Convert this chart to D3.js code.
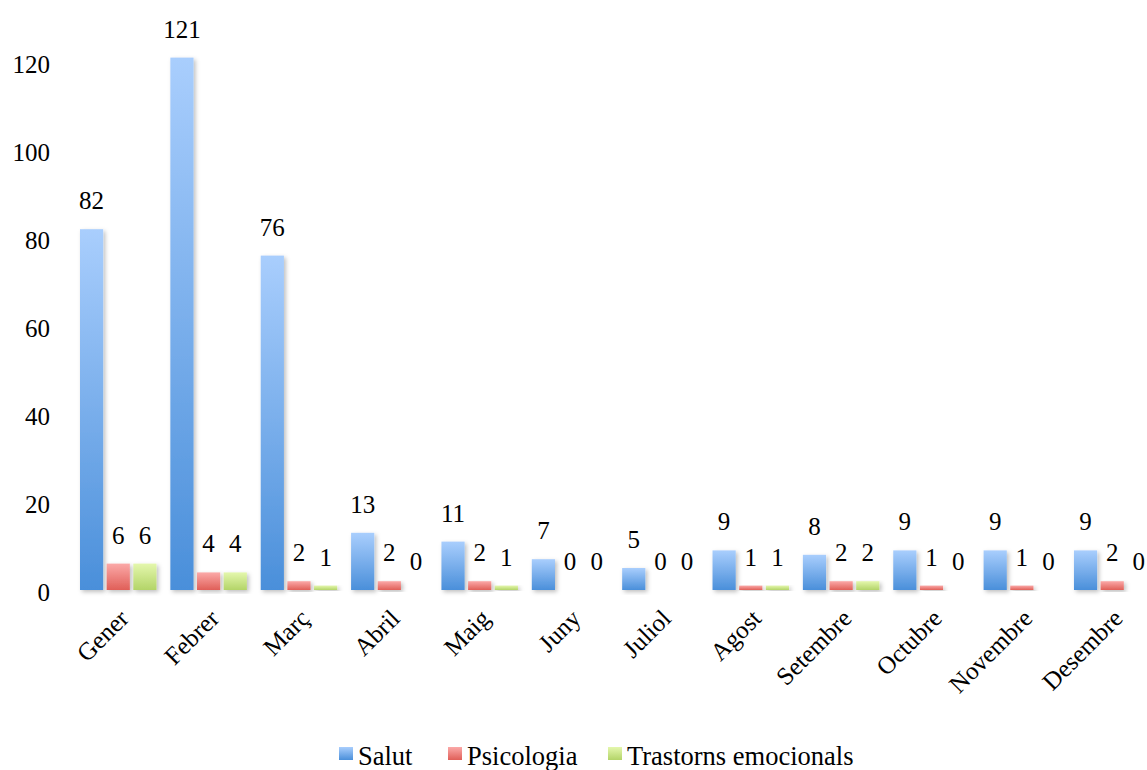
<!DOCTYPE html>
<html>
<head>
<meta charset="utf-8">
<script src="https://cdn.jsdelivr.net/npm/d3@7"></script>
<style>
  svg text { font-family: 'Liberation Serif', serif !important; }
</style>
</head>
<body style="margin:0">
<svg id="chart" width="1147" height="770" style="font-family:'Liberation Serif', serif"></svg>
<script>
const months = ["Gener","Febrer","Març","Abril","Maig","Juny","Juliol","Agost","Setembre","Octubre","Novembre","Desembre"];
const seriesNames = ["Salut","Psicologia","Trastorns emocionals"];
const salut = [82,121,76,13,11,7,5,9,8,9,9,9];
const psicologia = [6,4,2,2,2,0,0,1,2,1,1,2];
const trastorns = [6,4,1,0,1,0,0,1,2,0,0,0];
const yTicks = [0,20,40,60,80,100,120];
const colorsTop = ["#a9cefd","#fba9a8","#e4f7ad"];
const colorsBottom = ["#4a8fda","#e05f58","#b3d468"];

const FONT = "'Liberation Serif', serif";
const seriesValues = [salut, psicologia, trastorns];
const svg = d3.select("#chart");
const W = 1147;
const mLeft = 73, mBottom = 590, mTop = 62;
const step = 90.36;

const x0 = d3.scaleBand().domain(months).range([mLeft, mLeft + step * months.length]).padding(0);
const x1 = d3.scaleBand().domain(seriesNames).range([7, 83.5]).paddingInner(0.13).paddingOuter(0);
const y = d3.scaleLinear().domain([0, 120]).range([mBottom, mTop]);

const defs = svg.append("defs");
seriesNames.forEach((s, i) => {
  const g = defs.append("linearGradient").attr("id", "grad" + i)
    .attr("x1", 0).attr("y1", 0).attr("x2", 0).attr("y2", 1);
  g.append("stop").attr("offset", "0%").attr("stop-color", colorsTop[i]);
  g.append("stop").attr("offset", "100%").attr("stop-color", colorsBottom[i]);
});
const f = defs.append("filter").attr("id", "shadow").attr("x", "-30%").attr("y", "-10%").attr("width", "160%").attr("height", "130%");
f.append("feDropShadow").attr("dx", 2).attr("dy", 2).attr("stdDeviation", 2).attr("flood-color", "#000").attr("flood-opacity", 0.25);
const fl = defs.append("filter").attr("id", "lshadow").attr("x", "-5%").attr("y", "-200%").attr("width", "110%").attr("height", "500%");
fl.append("feDropShadow").attr("dx", 0).attr("dy", 1.5).attr("stdDeviation", 1).attr("flood-color", "#000").attr("flood-opacity", 0.2);

// gridlines
svg.append("g").selectAll("line").data(yTicks).join("line")
  .attr("x1", mLeft).attr("x2", W)
  .attr("y1", d => y(d)).attr("y2", d => y(d))
  .attr("stroke", "#9c9c9c").attr("stroke-width", 2)
  .attr("filter", "url(#lshadow)");

// y tick labels
svg.selectAll("text.ytick").data(yTicks).join("text")
  .attr("class", "ytick")
  .attr("x", 50).attr("y", d => y(d) + 10.5)
  .attr("text-anchor", "end").attr("font-size", 25).style("font-family", FONT).attr("fill", "#000")
  .text(d => d);

// bars
const groups = svg.append("g").selectAll("g").data(months).join("g")
  .attr("transform", d => `translate(${x0(d)},0)`);

groups.each(function(m, mi) {
  const g = d3.select(this);
  seriesNames.forEach((s, si) => {
    const v = seriesValues[si][mi];
    if (v > 0) {
      g.append("rect")
        .attr("x", x1(s)).attr("width", x1.bandwidth())
        .attr("y", y(v)).attr("height", y(0) - y(v))
        .attr("fill", `url(#grad${si})`)
        .attr("filter", "url(#shadow)");
    }
  });
});

// value labels
const labelData = [];
months.forEach((m, mi) => seriesNames.forEach((s, si) => labelData.push({m, s, v: seriesValues[si][mi]})));
svg.selectAll("text.val").data(labelData).join("text")
  .attr("class", "val")
  .attr("x", d => x0(d.m) + x1(d.s) + x1.bandwidth() / 2)
  .attr("y", d => y(d.v) - 20)
  .attr("text-anchor", "middle").attr("font-size", 25).style("font-family", FONT).attr("fill", "#000")
  .text(d => d.v);

// x labels
svg.selectAll("text.xlab").data(months).join("text")
  .attr("class", "xlab")
  .attr("transform", d => `translate(${x0(d) + x0.bandwidth() / 2 + 12},${620}) rotate(-45)`)
  .attr("text-anchor", "end").attr("font-size", 25).style("font-family", FONT).attr("fill", "#000")
  .text(d => d);

// legend
const legendX = [339, 448, 608];
seriesNames.forEach((s, i) => {
  svg.append("rect").attr("x", legendX[i]).attr("y", 747).attr("width", 14).attr("height", 13)
    .attr("fill", `url(#grad${i})`);
  svg.append("text").attr("x", legendX[i] + 19).attr("y", 765).attr("font-size", 26.5)
    .style("font-family", FONT).attr("fill", "#000").text(s);
});
</script>
</body>
</html>
